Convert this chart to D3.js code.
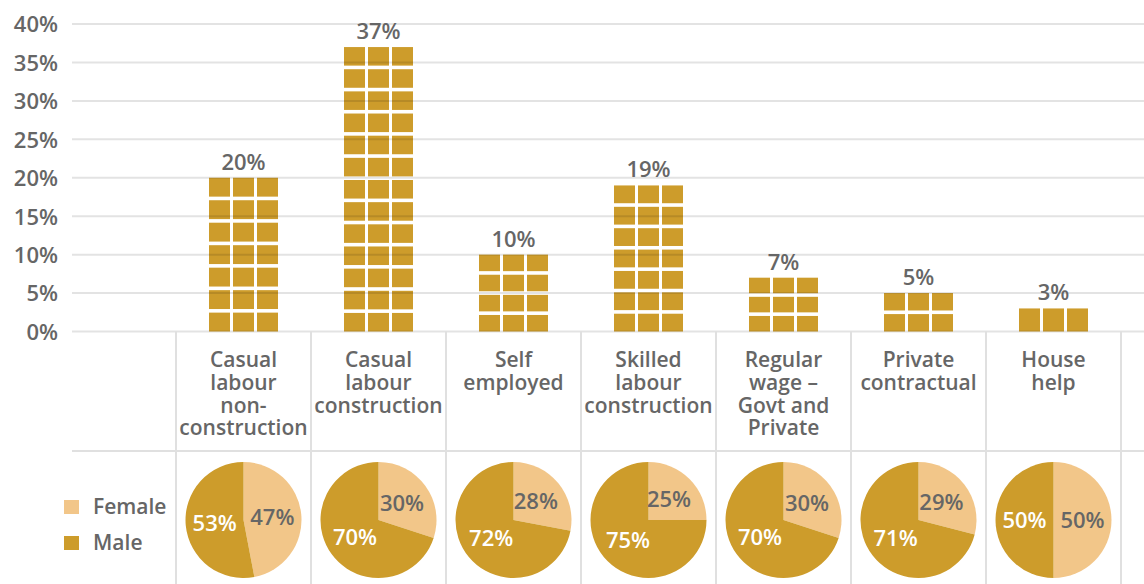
<!DOCTYPE html>
<html>
<head>
<meta charset="utf-8">
<script src="https://cdn.jsdelivr.net/npm/d3@7"></script>
<style>
  html, body { margin: 0; padding: 0; background: #fff; }
  svg { display: block; font-family: "Open Sans", "Noto Sans", sans-serif; }
</style>
</head>
<body>
<svg id="chart" width="1144" height="584"></svg>
<script>
// Share of workers by type of employment (%), with gender split per category
const categoryLines = [
  ["Casual", "labour", "non-", "construction"],
  ["Casual", "labour", "construction"],
  ["Self", "employed"],
  ["Skilled", "labour", "construction"],
  ["Regular", "wage –", "Govt and", "Private"],
  ["Private", "contractual"],
  ["House", "help"]
];
const shareValues = [20, 37, 10, 19, 7, 5, 3];
const femaleShare = [47, 30, 28, 25, 30, 29, 50];
const maleShare = [53, 70, 72, 75, 70, 71, 50];
const yTicks = [0, 5, 10, 15, 20, 25, 30, 35, 40];
const legendLabels = ["Female", "Male"];

const W = 1144, H = 584;
const gold = "#cd9c2b", light = "#f2c689", textGray = "#666666", lineGray = "#e0e0e0";

const svg = d3.select("#chart");
const ids = d3.range(categoryLines.length);

const x = d3.scaleBand().domain(ids).range([176, 1121]).paddingInner(0).paddingOuter(0);
const y = d3.scaleLinear().domain([0, 40]).range([331.5, 24]);

// Y axis labels
const yAxis = d3.axisLeft(y).tickValues(yTicks).tickFormat(d => d + "%").tickSize(0).tickPadding(0);
const yg = svg.append("g").attr("transform", "translate(58,0)").call(yAxis);
yg.select(".domain").remove();
yg.selectAll("text")
  .attr("fill", textGray)
  .style("font-size", "22px")
  .style("font-weight", 600)
  .style("font-family", "'Open Sans', sans-serif")
  .attr("dy", "0.36em");

// Tiled bars: three columns of blocks stacked up to each value
const barW = 69, cols = 3, gapX = 3, gapY = 3.6, pitchTarget = 22.6;
const tileW = (barW - gapX * (cols - 1)) / cols;
const bars = svg.append("g");
shareValues.forEach((v, i) => {
  const cx = x(i) + x.bandwidth() / 2;
  const left = cx - barW / 2;
  const h = y(0) - y(v);
  const rows = Math.max(1, Math.round((h + gapY) / pitchTarget));
  const pitch = (h + gapY) / rows;
  const tileH = pitch - gapY;
  const tiles = [];
  for (let r = 0; r < rows; r++) {
    for (let c = 0; c < cols; c++) tiles.push({ r, c });
  }
  bars.selectAll(null).data(tiles).enter().append("rect")
    .attr("x", d => left + d.c * (tileW + gapX))
    .attr("y", d => y(0) - (d.r + 1) * pitch + gapY)
    .attr("width", tileW)
    .attr("height", tileH)
    .attr("fill", gold);
});

// Gridlines drawn over the blocks, semi-transparent
svg.append("g").selectAll("line").data(yTicks).enter().append("line")
  .attr("x1", 72).attr("x2", W)
  .attr("y1", d => y(d)).attr("y2", d => y(d))
  .attr("stroke", "rgba(0,0,0,0.11)")
  .attr("stroke-width", 2);

// Value labels
svg.append("g").selectAll("text").data(shareValues).enter().append("text")
  .attr("x", (d, i) => x(i) + x.bandwidth() / 2)
  .attr("y", d => y(d) - 8)
  .attr("text-anchor", "middle")
  .attr("fill", textGray)
  .style("font-size", "22px")
  .style("font-weight", 600)
  .text(d => d + "%");

// Table grid below the axis
const grid = svg.append("g").attr("stroke", lineGray).attr("stroke-width", 2);
const edges = ids.map(i => x(i)).concat([x.range()[1]]);
grid.selectAll("line.v").data(edges).enter().append("line")
  .attr("x1", d => d).attr("x2", d => d)
  .attr("y1", y(0)).attr("y2", H);
grid.append("line").attr("x1", 72).attr("x2", W).attr("y1", 451).attr("y2", 451);

// Category labels
const catG = svg.append("g");
categoryLines.forEach((lines, i) => {
  const t = catG.append("text")
    .attr("x", x(i) + x.bandwidth() / 2)
    .attr("y", 367)
    .attr("text-anchor", "middle")
    .attr("fill", textGray)
    .style("font-size", "21px")
    .style("font-weight", 600);
  lines.forEach((ln, k) => {
    t.append("tspan")
      .attr("x", x(i) + x.bandwidth() / 2)
      .attr("dy", k === 0 ? 0 : 22.8)
      .text(ln);
  });
});

// Gender pies
const R = 58, pieCy = 520;
const pie = d3.pie().sort(null).value(d => d.v);
const arc = d3.arc().innerRadius(0).outerRadius(R);
ids.forEach(i => {
  const g = svg.append("g").attr("transform", `translate(${x(i) + x.bandwidth() / 2},${pieCy})`);
  const parts = pie([
    { v: femaleShare[i], fill: light, ink: textGray },
    { v: maleShare[i], fill: gold, ink: "#ffffff" }
  ]);
  g.selectAll("path").data(parts).enter().append("path")
    .attr("d", arc)
    .attr("fill", d => d.data.fill);
  g.selectAll("text").data(parts).enter().append("text")
    .attr("transform", d => `translate(${arc.centroid(d)})`)
    .attr("text-anchor", "middle")
    .attr("dy", "0.36em")
    .attr("fill", d => d.data.ink)
    .style("font-size", "22px")
    .style("font-weight", 600)
    .text(d => d.data.v + "%");
});

// Legend
const leg = svg.append("g");
[light, gold].forEach((c, k) => {
  const yy = [500, 536][k];
  leg.append("rect").attr("x", 64).attr("y", yy).attr("width", 15).attr("height", 14).attr("fill", c);
  leg.append("text").attr("x", 93).attr("y", yy + 13.5)
    .attr("fill", textGray)
    .style("font-size", "21px")
    .style("font-weight", 600)
    .text(legendLabels[k]);
});
</script>
</body>
</html>
